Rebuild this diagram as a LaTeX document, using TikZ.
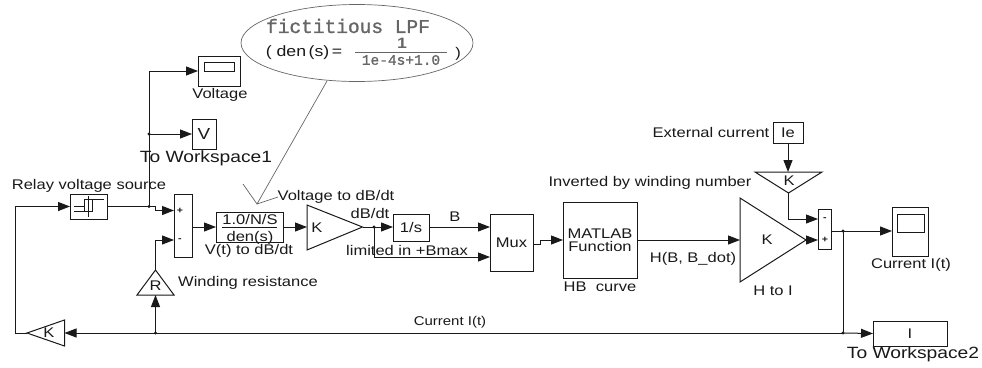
\documentclass[tikz,border=0pt]{standalone}
\usepackage{fontspec}
\setmainfont[FakeStretch=1.18]{Liberation Sans}
\newfontfamily\fictfont[FakeBold=1.2]{Liberation Mono}
\usetikzlibrary{arrows.meta,shapes.geometric}
\definecolor{ink}{gray}{0.1}
\definecolor{note}{gray}{0.4}
\tikzset{
  x=1pt,y=-1pt,
  every node/.style={inner sep=0pt,outer sep=0pt,text=ink},
  blk/.style={draw=ink,line width=1pt,fill=white},
  wire/.style={draw=ink,line width=1pt},
  sig/.style={wire,-{Triangle[length=12pt,width=9pt]}},
  lab/.style={font=\fontsize{14}{14}\selectfont},
  biglab/.style={font=\fontsize{16.3}{17}\selectfont},
  notec/.style={draw=note,line width=0.7pt},
  dot/.style={circle,fill=ink,minimum size=3.2pt},
}
\begin{document}
\begin{tikzpicture}
\useasboundingbox (0,0) rectangle (982,367);
% ---- callout
\node[notec,ellipse,minimum width=232pt,minimum height=77pt] (note) at (357,43) {};
\coordinate (ctip) at (257,204);
\coordinate (cl) at (243,184);
\coordinate (cr) at (278,197);
\coordinate (croot) at (327,81);
\draw[notec] (croot) -- (ctip) -- (cl) (ctip) -- (cr);
\node[text=note,font=\fictfont\fontsize{19.5}{20}\selectfont] (ntitle) at (348,26) {fictitious LPF};
\node[font=\fontsize{15}{15}\selectfont] (nden) at (304,53) {(\ den\,(s)\,=};
\node[font=\fontsize{15}{15}\selectfont\bfseries,text=note] (none) at (402,43) {1};
\node[font=\fictfont\fontsize{14.5}{15}\selectfont,text=note] (nfrac) at (401,60) {1e-4s+1.0};
\draw[notec,line width=1.2pt] (355,52.5) -- (447,52.5);
\node[lab] (nclose) at (458,54) {)};
% ---- blocks
\node[blk,minimum width=42pt,minimum height=30pt] (vscope) at (219,71) {};
\node[blk,minimum width=30pt,minimum height=9pt] (vscreen) at (219,66.5) {};
\node[blk,minimum width=24pt,minimum height=30pt,lab,font=\fontsize{16}{16}\selectfont] (vws) at (204,134) {V};
\node[blk,minimum width=37pt,minimum height=25pt] (relay) at (88.5,206.5) {};
\node[blk,minimum width=18pt,minimum height=63pt] (sumA) at (183,225.5) {};
\node[blk,minimum width=67pt,minimum height=30pt] (den) at (249.5,227) {};
\node[blk,minimum width=36pt,minimum height=27pt,lab] (integ) at (411,227.5) {1/s};
\node[blk,minimum width=43pt,minimum height=57pt,lab] (mux) at (511.5,242.5) {Mux};
\node[blk,minimum width=74pt,minimum height=76pt,lab,align=center] (matlab) at (600,240) {MATLAB\\[-1pt]Function};
\node[blk,minimum width=30pt,minimum height=21pt,lab] (ie) at (788,132.5) {Ie};
\node[blk,minimum width=13pt,minimum height=40pt] (sumB) at (824.5,229) {};
\node[blk,minimum width=36pt,minimum height=49pt] (iscope) at (910,231.5) {};
\node[blk,minimum width=27pt,minimum height=18pt] (iscreen) at (910.5,223) {};
\node[blk,minimum width=74pt,minimum height=25pt,lab] (iws) at (910,333.5) {I};
% signs
\node[font=\fontsize{9}{9}\selectfont\bfseries] (sa1) at (180,210.5) {+};
\node[font=\fontsize{9}{9}\selectfont\bfseries] (sa2) at (180,240) {-};
\node[font=\fontsize{9}{9}\selectfont\bfseries] (sb1) at (825,219) {-};
\node[font=\fontsize{9}{9}\selectfont\bfseries] (sb2) at (825,240) {+};
% relay icon
\draw[wire,line width=0.7pt] (74,206.5) -- (84,206.5) (84,211) -- (92,211) -- (92,199) -- (104,199)
  (74,211) -- (92,211) (84,211) -- (84,199) -- (92,199) (88.5,196) -- (88.5,217);
% den fraction
\draw[wire] (222,227) -- (277,227);
\node[lab] (dnum) at (250,219.5) {1.0/N/S};
\node[lab] (ddenom) at (250,238) {den(s)};
% ---- gain triangles
\coordinate (g1a) at (307,205); \coordinate (g1b) at (307,250); \coordinate (g1t) at (362.5,227);
\draw[blk] (g1a) -- (g1t) -- (g1b) -- cycle;
\node[lab] (g1k) at (317,228) {K};
\coordinate (g2a) at (740,198); \coordinate (g2b) at (740,282); \coordinate (g2t) at (806,240);
\draw[blk] (g2a) -- (g2t) -- (g2b) -- cycle;
\node[lab] (g2k) at (767,240) {K};
\coordinate (g3a) at (755,172); \coordinate (g3b) at (822,172); \coordinate (g3t) at (788.5,193);
\draw[blk] (g3a) -- (g3b) -- (g3t) -- cycle;
\node[lab] (g3k) at (789,180.5) {K};
\coordinate (g4a) at (64.5,320); \coordinate (g4b) at (64.5,346); \coordinate (g4t) at (27,333);
\draw[blk] (g4a) -- (g4t) -- (g4b) -- cycle;
\node[lab] (g4k) at (49,333) {K};
\coordinate (g5a) at (137,295); \coordinate (g5b) at (174,295); \coordinate (g5t) at (155.5,270);
\draw[blk] (g5a) -- (g5t) -- (g5b) -- cycle;
\node[lab] (g5k) at (155.5,286) {R};
% ---- connectors
\coordinate (jrelay) at (149,206.5);
\coordinate (jv) at (149,134);
\coordinate (jdb) at (374,227);
\coordinate (joutA) at (843,231);
\coordinate (joutB) at (843,333);
\coordinate (jr) at (155.5,333);
\draw[sig] (relay.east) -- (jrelay) -- (155,206.5) -- (155,210.5) -- (sumA.west |- 0,210.5);
\draw[sig] (jrelay) -- (149,71) -- (vscope.west |- 0,71);
\draw[sig] (jv) -- (vws.west);
\draw[sig] (sumA.east |- den.west) -- (den.west);
\draw[sig] (den.east) -- (g1a |- den.east);
\draw[wire] (g1t) -- (jdb);
\draw[sig] (jdb) -- (integ.west |- jdb);
\draw[sig] (jdb) -- (374,257) -- (mux.west |- 0,257);
\draw[sig] (integ.east |- jdb) -- (mux.west |- jdb);
\draw[sig] (mux.east |- 0,244) -- (540,244) -- (540,240) -- (matlab.west);
\draw[sig] (matlab.east) -- (g2a |- matlab.east);
\draw[sig] (ie.south) -- (g3a -| ie.south);
\draw[sig] (g3t) -- (788.5,219) -- (sumB.west |- 0,219);
\draw[sig] (g2t) -- (sumB.west |- g2t);
\draw[sig] (sumB.east |- joutA) -- (iscope.west |- joutA);
\draw[wire] (joutA) -- (joutB);
\draw[sig] (joutB) -- (iws.west);
\draw[sig] (joutB) -- (g4a |- joutB);
\draw[sig] (jr) -- (g5t |- g5a);
\draw[sig] (g5t) -- (155.5,240) -- (sumA.west |- 0,240);
\draw[sig] (g4t) -- (15,333) -- (15,206.5) -- (relay.west);
\foreach \j in {jrelay,jv,jdb,joutA,joutB,jr} \node[dot] at (\j) {};
% ---- labels
\node[lab] (lvolt) at (220,95) {Voltage};
\node[biglab] (lws1) at (206,158) {To Workspace1};
\node[lab] (lrelay) at (89,186) {Relay voltage source};
\node[lab] (lvdb) at (249,251) {V(t) to dB/dt};
\node[lab] (lvolt2) at (336,197) {Voltage to dB/dt};
\node[lab] (ldb) at (370,213) {dB/dt};
\node[lab] (lb) at (455,216.5) {B};
\node[lab] (llim) at (407,250) {limited in +Bmax};
\node[lab] (lwind) at (248,283) {Winding resistance};
\node[lab] (lhb) at (600,287) {HB\ \ curve};
\node[lab] (lhbd) at (693,259) {H(B, B\_dot)};
\node[lab] (lhi) at (773,291) {H to I};
\node[lab] (lext) at (711,132) {External current};
\node[lab] (linv) at (650,183) {Inverted by winding number};
\node[lab] (lcur) at (911,265) {Current I(t)};
\node[font=\fontsize{12.7}{13}\selectfont] (lcur2) at (450,322) {Current I(t)};
\node[biglab] (lws2) at (913,354) {To Workspace2};
\end{tikzpicture}
\end{document}
